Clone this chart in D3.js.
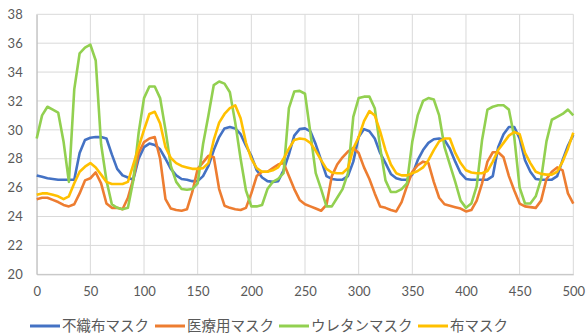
<!DOCTYPE html>
<html>
<head>
<meta charset="utf-8">
<script src="https://cdn.jsdelivr.net/npm/d3@7"></script>
<style>
  html, body { margin: 0; padding: 0; background: #fff; }
  svg { display: block; }
</style>
</head>
<body>
<svg id="chart" width="586" height="336"></svg>
<script>
// Sample positions (0..500, every 5 steps)
const xValues = d3.range(0, 501, 5);

const seriesNames = ["不織布マスク", "医療用マスク", "ウレタンマスク", "布マスク"];
const seriesColors = ["#4472C4", "#ED7D31", "#92D050", "#FFC000"];

const nonwoven = [
  26.84, 26.75, 26.65, 26.6, 26.55, 26.55, 26.55, 26.55, 28.4, 29.3,
  29.45, 29.5, 29.5, 29.4, 28.3, 27.3, 26.85, 26.7, 26.55, 28.0,
  28.8, 29.05, 28.95, 28.65, 28.0, 27.3, 26.85, 26.6, 26.55, 26.45,
  26.45, 26.8, 27.5, 28.6, 29.5, 30.1, 30.2, 30.1, 29.7, 28.9,
  28.2, 27.2, 26.7, 26.45, 26.4, 26.45, 27.2, 28.3, 29.6, 30.05,
  30.1, 29.9, 29.0, 27.9, 26.8, 26.6, 26.55, 26.55, 26.8, 27.8,
  29.5, 30.05, 29.9, 29.4, 28.4, 27.7, 26.95, 26.65, 26.55, 26.55,
  26.9, 27.9, 28.6, 29.1, 29.35, 29.4, 29.3, 28.7, 27.8, 27.0,
  26.6, 26.55, 26.55, 26.55, 26.55, 26.8, 28.8, 29.7, 30.2, 30.2,
  29.4, 27.9, 27.1, 26.6, 26.55, 26.55, 26.55, 26.8, 27.9, 28.9,
  29.65
];

const medical = [
  25.2, 25.3, 25.3, 25.15, 25.0, 24.8, 24.7, 24.85, 25.6, 26.5,
  26.65, 27.05, 26.3, 24.9, 24.6, 24.6, 24.5, 25.3, 26.6, 28.4,
  29.15, 29.4, 29.5, 28.0, 25.2, 24.55, 24.45, 24.4, 24.5, 25.7,
  27.3, 27.75, 28.2, 28.1, 25.9, 24.75, 24.6, 24.5, 24.45, 24.6,
  25.6, 26.8, 27.1, 27.1, 27.35, 27.6, 27.7, 26.8, 25.9, 25.15,
  24.85, 24.7, 24.55, 24.4, 24.8, 26.8, 27.6, 28.1, 28.5, 28.75,
  28.4, 27.4, 26.6, 25.6, 24.7, 24.6, 24.45, 24.35, 25.0, 26.1,
  27.1, 27.55, 27.8, 27.7, 26.4, 25.3, 24.85, 24.75, 24.65, 24.55,
  24.35, 24.45, 25.1, 26.3, 27.8, 28.45, 28.45, 28.1, 26.8, 25.8,
  24.9, 24.7, 24.65, 24.6, 25.1, 26.6, 27.1, 27.4, 27.2, 25.6,
  24.9
];

const urethane = [
  29.4, 31.0, 31.6, 31.4, 31.2, 29.2, 26.4, 32.8, 35.3, 35.7,
  35.9, 34.8, 29.0, 26.5, 24.85, 24.6, 24.5, 24.6, 26.5, 29.8,
  32.2, 33.0, 33.0, 32.2, 30.0, 27.5, 26.4, 25.9, 25.85, 25.9,
  26.3, 29.0, 31.0, 33.1, 33.35, 33.2, 32.6, 30.5, 28.0, 25.8,
  24.7, 24.7, 24.8, 25.9, 26.4, 26.6, 27.0, 31.5, 32.65, 32.7,
  32.5, 29.8, 27.0, 25.9, 24.7, 24.7, 25.3, 25.9, 27.0, 30.9,
  32.2, 32.3, 32.3, 31.5, 28.8, 26.5, 25.7, 25.7, 25.9, 26.3,
  29.2, 31.0, 32.0, 32.2, 32.1, 31.0, 28.8, 27.6, 26.4, 25.1,
  24.6, 24.9, 26.1, 29.3, 31.4, 31.6, 31.7, 31.7, 31.4, 29.5,
  26.0, 24.9, 24.9, 25.4, 26.6, 29.2, 30.7, 30.9, 31.1, 31.4,
  31.0
];

const cloth = [
  25.5, 25.6, 25.6, 25.5, 25.4, 25.2, 25.4, 26.3, 27.1, 27.45,
  27.7, 27.4, 26.9, 26.4, 26.25, 26.25, 26.25, 26.4, 27.6, 28.8,
  30.0, 31.1, 31.25, 30.45, 28.8, 28.05, 27.7, 27.5, 27.4, 27.3,
  27.3, 27.35, 27.7, 29.3, 30.5, 31.1, 31.5, 31.7, 30.8, 29.1,
  28.0, 27.35, 27.1, 27.1, 27.2, 27.4, 28.0, 28.7, 29.3, 29.4,
  29.35, 29.1, 28.55, 27.9, 27.3, 27.05, 27.0, 27.0, 27.35, 28.7,
  29.5, 30.6, 31.3, 31.0, 29.9, 28.6, 27.6, 27.0, 26.85, 26.85,
  27.0, 27.15, 27.4, 27.9, 28.6, 29.2, 29.4, 29.4, 28.4, 27.7,
  27.2, 27.05, 27.0, 27.0, 27.15, 27.8, 28.6, 29.1, 29.6, 29.85,
  29.7, 28.4, 27.7, 27.1, 26.95, 26.9, 26.9, 27.1, 27.8, 28.7,
  29.8
];

const seriesValues = [nonwoven, medical, urethane, cloth];

const xTicks = [0, 50, 100, 150, 200, 250, 300, 350, 400, 450, 500];
const yTicks = [20, 22, 24, 26, 28, 30, 32, 34, 36, 38];

const svg = d3.select("#chart");
const plotLeft = 36.7, plotRight = 573.3, plotTop = 14.3, plotBottom = 274.3;

const x = d3.scaleLinear().domain([0, 500]).range([plotLeft, plotRight]);
const y = d3.scaleLinear().domain([20, 38]).range([plotBottom, plotTop]);

const labelFont = "Lato, 'Open Sans', 'Liberation Sans', sans-serif";
const textColor = "#595959";

// Gridlines
const grid = svg.append("g");
grid.selectAll("line.h").data(yTicks).join("line")
  .attr("class", "h")
  .attr("x1", plotLeft).attr("x2", plotRight)
  .attr("y1", d => y(d)).attr("y2", d => y(d))
  .attr("stroke", "#d9d9d9").attr("stroke-width", 1);
grid.selectAll("line.v").data(xTicks).join("line")
  .attr("class", "v")
  .attr("y1", plotTop).attr("y2", plotBottom)
  .attr("x1", d => x(d)).attr("x2", d => x(d))
  .attr("stroke", "#d9d9d9").attr("stroke-width", 1);

// Axes (labels only)
const xAxis = d3.axisBottom(x).tickValues(xTicks).tickSize(0).tickPadding(12);
const yAxis = d3.axisLeft(y).tickValues(yTicks).tickSize(0).tickPadding(14);

const gx = svg.append("g").attr("transform", `translate(0,${plotBottom})`).call(xAxis);
const gy = svg.append("g").attr("transform", `translate(${plotLeft},0)`).call(yAxis);
[gx, gy].forEach(g => {
  g.select(".domain").attr("stroke", "#bfbfbf");
  g.selectAll("text").attr("fill", textColor)
    .style("font-family", labelFont).style("font-size", "13px");
});

// Series lines
const line = d3.line()
  .x((d, i) => x(xValues[i]))
  .y(d => y(d));

svg.append("g").selectAll("path").data(seriesValues).join("path")
  .attr("d", d => line(d))
  .attr("fill", "none")
  .attr("stroke", (d, i) => seriesColors[i])
  .attr("stroke-width", 2.6)
  .attr("stroke-linejoin", "round");

// Legend
const legend = svg.append("g").attr("transform", "translate(0,326)");
const legendX = [30, 155, 279, 418];
seriesNames.forEach((name, i) => {
  const g = legend.append("g").attr("transform", `translate(${legendX[i]},0)`);
  g.append("line").attr("x1", 0).attr("x2", 30).attr("y1", 0).attr("y2", 0)
    .attr("stroke", seriesColors[i]).attr("stroke-width", 3);
  g.append("text").attr("x", 32).attr("y", 0).attr("dy", "0.36em")
    .attr("fill", textColor)
    .style("font-family", "'Noto Sans CJK JP', sans-serif")
    .style("font-size", "14.5px")
    .text(name);
});
</script>
</body>
</html>
